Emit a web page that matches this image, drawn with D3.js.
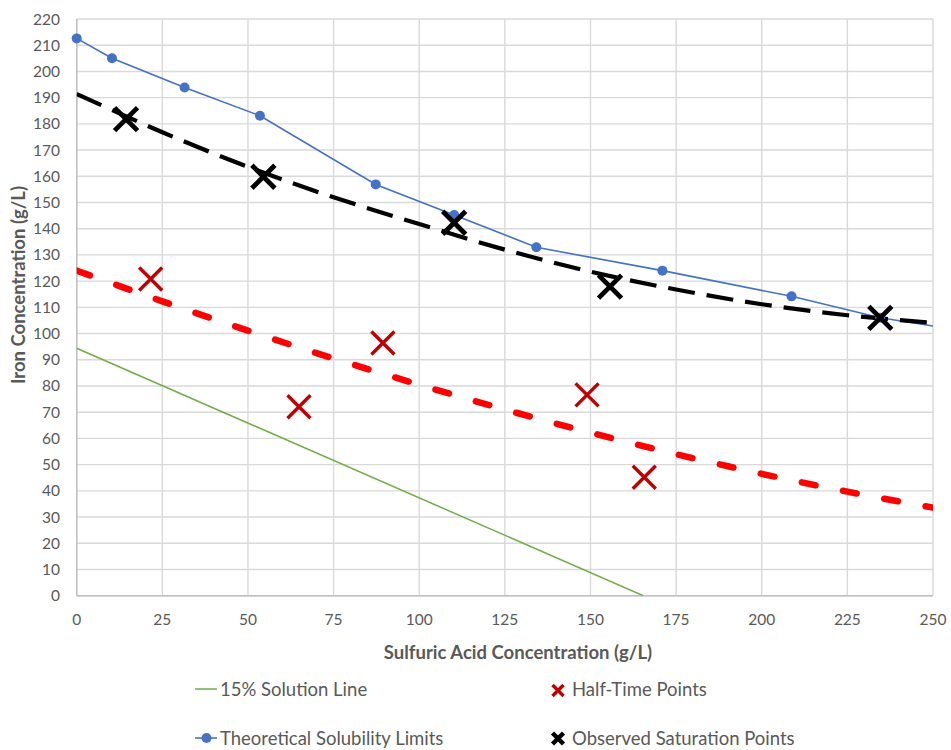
<!DOCTYPE html>
<html><head><meta charset="utf-8">
<script src="https://cdn.jsdelivr.net/npm/d3@7"></script>
<style>body{margin:0;background:#fff;} text{font-family:Lato,"Open Sans",sans-serif;}</style>
</head><body>
<svg id="c" width="951" height="750"></svg>
<script>
const xTicks = [0,25,50,75,100,125,150,175,200,225,250];
const yTicks = d3.range(0,221,10);
const solutionX = [0,165.4];
const solutionY = [94.4,0];
const solubilityX = [0,10.3,31.5,53.5,87.3,110.2,134.2,171.0,208.7,234.6,262];
const solubilityY = [212.6,205.0,193.9,183.1,156.9,145.2,132.9,124.0,114.2,106.0,100.5];
const halfTimeX = [21.6,64.9,89.4,149.0,165.7];
const halfTimeY = [120.8,72.1,96.4,76.6,45.2];
const satX = [14.4,54.5,110.2,155.7,234.6];
const satY = [181.8,159.8,142.3,117.9,106.0];
const trendX = [0,25,50,75,100,125,150,175,200,225,250];
const trendSatY = [191.4,176.8,163.6,152.0,141.8,132.0,123.6,116.8,111.2,107.0,104.1];
const trendHalfY = [124.0,112.3,101.1,90.5,80.5,71.0,62.2,54.0,46.5,39.7,33.6];

const svg = d3.select("#c");
const L=76.7,R=933,T=19,B=595.7;
const x = d3.scaleLinear().domain([0,250]).range([L,R]);
const y = d3.scaleLinear().domain([0,220]).range([B,T]);

svg.append("defs").append("clipPath").attr("id","clip").append("rect")
  .attr("x",L).attr("y",T-10).attr("width",R-L).attr("height",B-T+10);

// grid
const g = svg.append("g");
g.selectAll(".hg").data(yTicks).join("line").attr("x1",L).attr("x2",R)
  .attr("y1",d=>y(d)).attr("y2",d=>y(d)).attr("stroke","#d9d9d9").attr("stroke-width",1.4);
g.selectAll(".vg").data(xTicks).join("line").attr("y1",T).attr("y2",B)
  .attr("x1",d=>x(d)).attr("x2",d=>x(d)).attr("stroke","#d9d9d9").attr("stroke-width",1.4);
svg.append("line").attr("x1",L).attr("x2",L).attr("y1",T).attr("y2",B).attr("stroke","#bfbfbf").attr("stroke-width",1.4);
svg.append("line").attr("x1",L).attr("x2",R).attr("y1",B).attr("y2",B).attr("stroke","#bfbfbf").attr("stroke-width",1.4);

// tick labels
svg.selectAll(".yl").data(yTicks).join("text").attr("x",60).attr("y",d=>y(d)+5.5)
  .attr("text-anchor","end").attr("font-size",15.5).attr("fill","#595959").text(d=>d);
svg.selectAll(".xl").data(xTicks).join("text").attr("x",d=>x(d)).attr("y",625)
  .attr("text-anchor","middle").attr("font-size",15.5).attr("fill","#595959").text(d=>d);

// axis titles
svg.append("text").attr("x",518).attr("y",659).attr("text-anchor","middle")
  .attr("font-size",18.5).attr("font-weight","bold").attr("fill","#595959")
  .text("Sulfuric Acid Concentration (g/L)");
svg.append("text").attr("transform","translate(25,285) rotate(-90)").attr("text-anchor","middle")
  .attr("font-size",18.5).attr("font-weight","bold").attr("fill","#595959")
  .text("Iron Concentration (g/L)");

const line = d3.line().x(d=>x(d[0])).y(d=>y(d[1]));
const smooth = d3.line().x(d=>x(d[0])).y(d=>y(d[1])).curve(d3.curveMonotoneX);
const plot = svg.append("g").attr("clip-path","url(#clip)");

// green
plot.append("path").attr("d",line(solutionX.map((v,i)=>[v,solutionY[i]])))
  .attr("fill","none").attr("stroke","#70AD47").attr("stroke-width",1.5);
// blue
const sol = solubilityX.map((v,i)=>[v,solubilityY[i]]);
plot.append("path").attr("d",line(sol)).attr("fill","none").attr("stroke","#4472C4").attr("stroke-width",1.6);
svg.append("g").selectAll("circle").data(sol.filter(d=>d[0]<=250)).join("circle")
  .attr("cx",d=>x(d[0])).attr("cy",d=>y(d[1])).attr("r",5).attr("fill","#4472C4");

// trendlines
plot.append("path").attr("d",smooth(trendX.map((v,i)=>[v,trendSatY[i]]))).attr("fill","none")
  .attr("stroke","#000").attr("stroke-width",4.2).attr("stroke-dasharray","27,12");
plot.append("path").attr("d",smooth(trendX.map((v,i)=>[v,trendHalfY[i]]))).attr("fill","none")
  .attr("stroke","#FF0000").attr("stroke-width",6.5).attr("stroke-dasharray","14,28").attr("stroke-linecap","round");

function cross(sel, cx, cy, s, color, w){
  sel.append("path").attr("d",`M${cx-s},${cy-s}L${cx+s},${cy+s}M${cx-s},${cy+s}L${cx+s},${cy-s}`)
    .attr("stroke",color).attr("stroke-width",w).attr("fill","none");
}
halfTimeX.forEach((v,i)=>cross(svg,x(v),y(halfTimeY[i]),11.5,"#C00000",3.4));
satX.forEach((v,i)=>cross(svg,x(v),y(satY[i]),11.5,"#000",4.8));

// legend
const lg = svg.append("g").attr("font-size",18.5).attr("fill","#595959");
lg.append("line").attr("x1",195).attr("x2",217).attr("y1",689).attr("y2",689).attr("stroke","#70AD47").attr("stroke-width",1.5);
lg.append("text").attr("x",220).attr("y",696).text("15% Solution Line");
lg.append("line").attr("x1",195).attr("x2",217).attr("y1",738).attr("y2",738).attr("stroke","#4472C4").attr("stroke-width",1.6);
lg.append("circle").attr("cx",206.5).attr("cy",738).attr("r",5).attr("fill","#4472C4");
lg.append("text").attr("x",220).attr("y",745).text("Theoretical Solubility Limits");
cross(lg,558,690.5,5.5,"#C00000",3.4);
lg.append("text").attr("x",572).attr("y",696).text("Half-Time Points");
cross(lg,558,738.5,5.5,"#000",4.5);
lg.append("text").attr("x",572).attr("y",745).text("Observed Saturation Points");
</script>
</body></html>
